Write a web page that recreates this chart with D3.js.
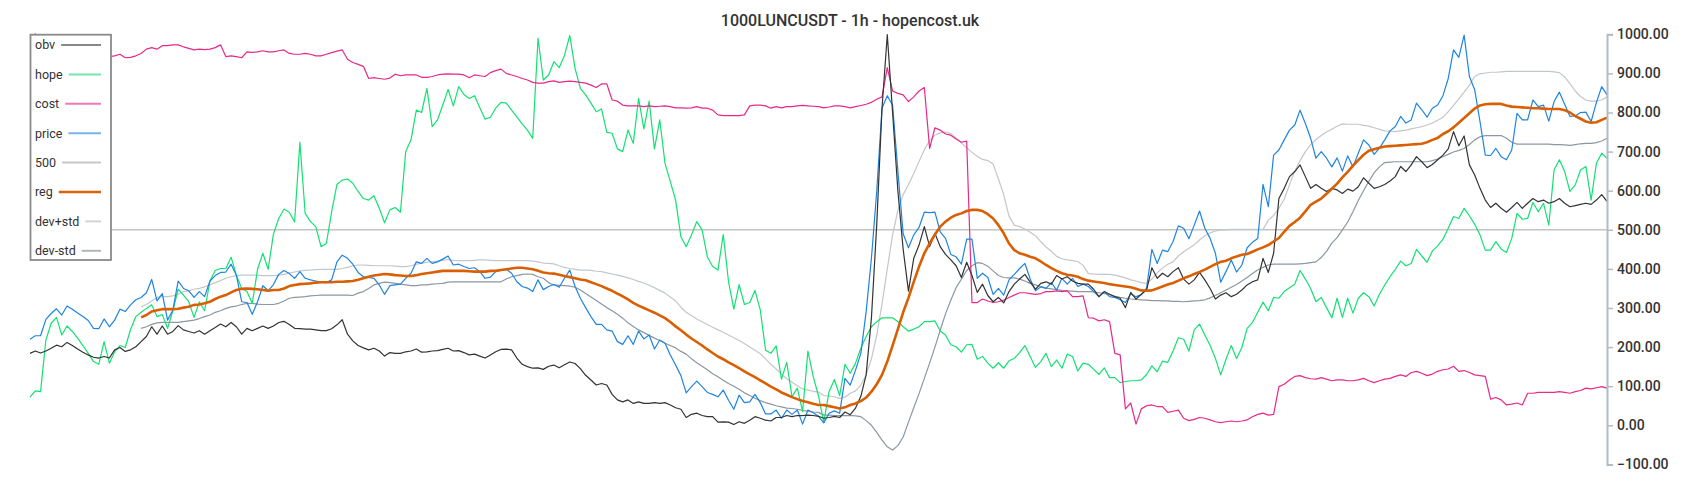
<!DOCTYPE html>
<html>
<head>
<meta charset="utf-8">
<script src="https://cdn.jsdelivr.net/npm/d3@7"></script>
<style>
  html, body { margin: 0; padding: 0; background: #fff; }
  svg { display: block; font-family: Roboto, "Noto Sans", sans-serif; }
</style>
</head>
<body>
<svg id="chart" width="1700" height="500"></svg>
<script>
// ---------------- data (hourly samples, index 0..298) ----------------
const title = "1000LUNCUSDT - 1h - hopencost.uk";
const seriesNames = ["obv", "hope", "cost", "price", "500", "reg", "dev+std", "dev-std"];
const yTicks = [-100, 0, 100, 200, 300, 400, 500, 600, 700, 800, 900, 1000];

const obv = [
184,190,185,190,197,205,201,212,204,195,
187,180,174,172,176,172,193,199,189,193,
201,214,227,252,233,254,233,240,255,244,
240,236,242,233,242,250,259,252,263,252,
233,248,242,248,254,248,254,263,266,258,
248,247,246,246,244,242,242,247,257,270,
233,216,204,198,193,197,190,177,186,184,
184,188,190,195,187,188,190,191,194,197,
190,191,186,180,182,177,172,180,188,194,
195,193,172,156,150,146,147,143,151,154,
147,155,162,158,145,128,116,103,107,103,
79,65,60,65,56,60,56,56,58,56,
58,52,45,41,20,28,31,25,22,22,
8,9,8,2,9,5,13,22,18,13,
11,20,20,25,22,25,25,26,25,23,
18,20,23,20,34,27,44,74,129,274,
512,811,999,800,600,450,343,427,461,508,
457,491,457,437,423,408,378,417,383,340,
361,332,316,327,313,342,361,374,386,366,
348,363,367,361,383,374,380,369,363,361,
361,348,329,342,335,329,325,301,340,323,
335,346,403,376,389,380,393,403,374,361,
372,391,372,350,323,333,339,329,335,346,
359,367,372,427,391,440,580,606,636,649,
666,636,606,616,606,598,606,602,593,604,
599,610,633,619,606,610,616,625,636,662,
649,666,687,674,659,667,679,691,707,751,
715,740,666,640,606,576,557,568,555,545,
557,570,555,568,580,572,576,568,572,580,
568,559,562,565,568,565,576,590,573];

const hope = [
72,88,86,218,261,276,231,254,240,223,
204,184,163,156,214,159,188,204,199,245,
278,289,299,308,278,283,248,293,348,333,
316,276,316,293,369,396,401,401,430,384,
350,342,312,399,440,399,489,529,553,545,
520,724,542,521,508,457,465,546,616,627,
630,619,598,580,576,587,555,518,551,557,
545,700,730,806,800,862,764,781,819,859,
817,866,846,836,843,812,783,788,811,826,
824,806,789,771,755,734,990,883,896,930,
915,946,997,913,862,845,824,802,809,749,
747,707,700,755,721,836,758,829,707,781,
670,623,576,482,457,487,521,500,431,406,
397,488,367,297,360,309,314,345,295,192,
184,203,118,161,73,95,35,190,125,75,
8,86,117,76,156,133,159,197,227,252,
265,275,275,275,265,252,241,246,252,265,
265,267,241,231,206,201,187,206,207,169,
176,159,146,160,146,165,171,186,204,176,
148,163,184,150,167,146,182,176,139,159,
156,143,130,147,122,122,109,112,114,114,
116,130,152,137,164,161,190,224,220,190,
244,259,231,204,171,129,169,204,171,199,
248,263,289,315,293,327,325,342,352,361,
396,374,350,316,327,301,275,325,276,325,
287,325,339,329,305,335,359,380,399,420,
408,414,450,433,417,446,459,476,504,534,
529,555,536,514,487,448,448,470,451,442,
478,542,527,529,570,546,568,512,653,679,
649,598,615,653,662,576,670,696,683];

const cost = [
990,1001,988,982,976,968,962,957,953,950,
948,946,945,944,943,943,945,949,940,941,
945,951,962,966,962,971,971,973,973,968,
964,960,962,961,962,966,973,943,945,943,
940,955,954,955,958,955,955,958,960,951,
949,949,951,949,945,945,949,953,957,960,
936,928,923,918,887,889,887,885,888,898,
894,896,896,896,890,890,892,896,898,899,
898,898,896,889,896,894,892,902,907,911,
900,896,892,887,883,877,875,875,879,881,
877,879,880,879,877,875,870,864,873,873,
832,829,819,817,817,817,815,817,815,816,
817,815,812,812,811,812,815,811,811,806,
794,792,792,792,792,794,817,819,819,817,
811,815,812,815,815,817,818,817,816,815,
812,814,817,817,815,812,815,818,821,826,
834,840,915,855,849,845,828,840,855,864,
708,761,755,745,742,732,724,727,314,314,
323,318,314,316,320,327,333,339,339,337,
335,337,342,342,344,342,344,329,329,331,
275,274,267,270,265,184,180,42,57,3,
42,50,52,48,48,33,36,39,18,12,
15,20,18,14,9,7,9,11,9,11,
14,22,28,31,26,28,99,105,116,125,
127,122,119,118,122,118,114,116,116,114,
114,116,120,114,109,114,118,120,125,129,
125,135,138,133,127,131,138,142,144,151,
138,140,135,129,127,125,67,71,65,52,
54,57,52,82,82,84,84,84,84,86,
84,82,86,89,95,93,96,99,95];

const price = [
220,229,229,271,286,298,282,305,297,287,
278,268,248,247,272,252,269,297,291,308,
321,327,339,373,318,337,269,295,369,350,
344,327,342,329,369,383,391,392,412,384,
316,314,284,316,357,344,360,386,396,388,
376,393,376,372,369,366,365,372,418,435,
427,412,391,380,378,376,359,335,357,359,
361,376,389,418,414,427,414,418,425,433,
410,412,406,401,403,393,376,379,393,397,
399,389,367,355,351,342,372,347,355,360,
353,376,397,355,325,301,278,258,258,244,
241,214,207,229,207,241,221,231,195,218,
210,180,154,127,83,99,113,99,84,79,
73,90,64,41,77,58,60,79,58,29,
29,39,18,39,28,39,3,39,32,23,
6,31,37,31,120,103,141,184,290,427,
598,811,843,819,650,490,454,487,506,545,
544,545,495,478,437,431,412,476,476,376,
389,378,335,350,333,372,386,401,414,374,
344,354,350,365,346,376,361,376,355,361,
355,342,329,342,329,327,321,314,336,329,
334,351,450,414,448,444,470,510,504,477,
512,548,504,478,440,366,393,423,392,410,
454,468,478,616,559,691,704,730,755,768,
806,772,734,683,700,683,661,684,650,689,
661,696,730,717,693,709,730,753,764,790,
773,781,824,807,788,811,819,843,887,960,
941,998,892,858,777,691,690,708,687,679,
704,798,781,781,832,815,819,778,828,852,
821,790,791,800,801,777,826,866,845];

const level500 = new Array(price.length).fill(500);

// regression and bands only exist from hour 21 onwards
const reg = new Array(21).fill(null).concat([
276,282,291,294,297,297,297,298,301,
303,308,309,312,316,323,329,333,340,346,
349,350,349,348,346,344,346,346,350,356,
359,361,362,363,365,366,366,366,367,367,
368,369,372,376,380,383,385,387,386,384,
383,382,382,384,387,389,391,393,395,395,
395,395,395,394,393,393,393,395,395,397,
399,401,403,403,401,399,395,391,389,388,
385,382,379,376,373,371,366,361,356,350,
344,337,330,322,313,306,300,294,288,281,
274,264,253,243,232,222,213,204,194,185,
176,169,161,154,146,138,130,123,115,107,
99,92,84,78,72,67,62,59,55,52,
52,49,46,43,46,52,56,62,71,86,
105,129,163,204,246,289,326,367,406,440,
465,488,508,521,531,538,542,548,551,551,
548,540,529,512,491,465,448,440,436,431,
427,419,410,402,395,389,385,383,380,374,
370,368,366,364,361,359,357,355,353,349,
345,344,345,350,355,360,364,370,376,381,
387,392,398,405,412,418,421,427,432,436,
438,444,450,455,461,470,479,495,510,520,
531,547,564,572,580,592,605,618,634,648,
664,678,692,702,706,710,713,714,715,716,
717,718,719,720,724,730,735,745,752,762,
774,786,798,810,818,821,822,822,822,818,
815,814,813,812,811,811,810,809,809,809,
806,800,791,784,777,774,775,781,787]);

const devPlus = new Array(21).fill(null).concat([
303,309,318,327,329,329,331,335,342,
344,348,350,354,359,365,370,376,380,383,
384,384,384,384,383,383,383,384,386,389,
392,395,396,397,398,399,399,399,399,401,
404,408,410,410,409,408,408,408,408,407,
406,406,408,412,414,417,418,420,422,424,
422,421,421,421,422,423,423,422,421,421,
421,421,421,421,421,420,418,415,414,413,
408,404,401,399,397,397,396,394,393,390,
387,384,381,377,373,368,364,358,352,345,
338,328,318,302,289,281,272,265,258,251,
244,238,231,224,217,209,200,192,183,170,
156,144,131,119,110,101,93,90,87,85,
76,75,73,69,72,82,88,103,128,170,
230,310,400,487,550,590,615,644,675,705,
728,742,748,750,746,735,722,710,698,688,
680,677,668,630,590,535,512,508,502,494,
485,470,456,445,432,426,423,421,419,409,
388,387,386,386,386,384,381,377,372,369,
365,363,374,390,402,412,418,433,444,453,
462,474,485,492,497,499,500,501,501,501,
501,501,501,501,524,537,555,578,615,650,
677,700,718,731,741,750,757,765,771,770,
770,770,767,765,761,757,753,752,751,753,
755,758,761,764,768,773,780,788,802,818,
835,852,870,892,899,901,903,903,904,905,
905,905,905,905,905,905,905,905,904,902,
891,874,855,841,832,829,829,832,840]);

const devMinus = new Array(21).fill(null).concat([
248,252,258,262,263,263,263,263,265,
267,269,273,278,282,289,293,299,303,305,
309,312,312,310,309,309,309,312,318,325,
327,328,329,331,332,333,333,333,333,333,
333,332,338,342,350,359,363,366,365,363,
361,359,357,357,359,359,361,362,363,366,
367,367,367,367,367,367,367,367,367,367,
374,380,383,386,387,386,380,376,365,359,
358,357,356,353,346,337,328,319,310,301,
293,284,274,262,253,244,237,230,223,217,
210,204,198,189,182,170,160,151,142,132,
124,115,107,100,92,83,76,69,63,58,
54,50,47,44,43,41,38,36,34,33,
26,26,25,25,25,25,24,22,12,0,
-18,-38,-55,-63,-52,-30,8,45,81,120,
159,200,243,285,320,352,374,396,408,416,
414,407,395,383,378,377,377,374,369,363,
359,355,351,349,347,345,344,343,342,342,
342,341,339,337,334,330,327,325,323,322,
321,320,319,319,318,318,317,317,316,317,
318,319,321,326,332,339,346,353,360,369,
378,388,397,404,410,412,412,412,412,412,
413,414,416,418,429,445,466,480,500,520,
546,575,600,624,646,661,672,673,674,674,
674,674,674,674,674,677,681,687,693,699,
703,708,718,730,738,741,741,741,741,734,
724,719,719,719,719,719,719,719,718,718,
717,716,718,720,721,721,723,727,734]);

// ---------------- chart ----------------
const W = 1700, H = 500;
const svg = d3.select("#chart");
svg.append("rect").attr("width", W).attr("height", H).attr("fill", "#fff");

const x = d3.scaleLinear().domain([0, price.length - 1]).range([30, 1607]);
const y = d3.scaleLinear().domain([-100, 1000]).range([464.4, 34.3]);

const series = [
  { name: "obv",     data: obv,       color: "#333333", width: 1.2, legendColor: "#888888" },
  { name: "hope",    data: hope,      color: "#14e073", width: 1.2, legendColor: "#74e8aa" },
  { name: "cost",    data: cost,      color: "#e7298a", width: 1.2, legendColor: "#f07ab8" },
  { name: "price",   data: price,     color: "#1e84e2", width: 1.2, legendColor: "#78b4ec" },
  { name: "500",     data: level500,  color: "#c4c4c4", width: 1.6, legendColor: "#c8c8c8" },
  { name: "reg",     data: reg,       color: "#d95f02", width: 2.6, legendColor: "#d96406" },
  { name: "dev+std", data: devPlus,   color: "#c2c7cc", width: 1.2, legendColor: "#d0d4d8" },
  { name: "dev-std", data: devMinus,  color: "#8c97a1", width: 1.2, legendColor: "#aeb6bd" }
];

const line = d3.line()
  .defined(d => d != null)
  .x((d, i) => x(i))
  .y(d => y(d));

const drawOrder = ["500", "dev+std", "dev-std", "hope", "cost", "price", "obv", "reg"];
const gLines = svg.append("g").attr("fill", "none").attr("stroke-linejoin", "round");
drawOrder.forEach(n => {
  const s = series.find(d => d.name === n);
  gLines.append("path")
    .datum(s.data)
    .attr("d", line)
    .attr("stroke", s.color)
    .attr("stroke-width", s.width);
});

// right axis
const axis = d3.axisRight(y)
  .tickValues(yTicks)
  .tickFormat(d3.format(".2f"))
  .tickSize(6)
  .tickPadding(4);
const gAxis = svg.append("g").attr("transform", "translate(1607,0)").call(axis);
gAxis.select(".domain").attr("stroke", "#b3bbc3").attr("stroke-width", 2);
gAxis.selectAll(".tick line").attr("stroke", "#b3bbc3").attr("stroke-width", 1.5);
gAxis.selectAll(".tick text")
  .attr("fill", "#333")
  .style("font-family", "Roboto, sans-serif")
  .style("font-size", "14px")
  .style("font-weight", "500");

// title
svg.append("text")
  .attr("x", W / 2)
  .attr("y", 26)
  .attr("text-anchor", "middle")
  .attr("fill", "#333")
  .style("font-family", "Roboto, sans-serif")
  .style("font-size", "16px")
  .style("font-weight", "500")
  .text(title);

// legend
const lg = svg.append("g");
lg.append("rect")
  .attr("x", 30.5).attr("y", 34.7)
  .attr("width", 80.5).attr("height", 225.3)
  .attr("fill", "#fff")
  .attr("stroke", "#8a8a8a")
  .attr("stroke-width", 1.8);
seriesNames.forEach((n, i) => {
  const s = series.find(d => d.name === n);
  const cy = 45 + i * 29.4;
  const t = lg.append("text")
    .attr("x", 35).attr("y", cy + 4.3)
    .attr("fill", "#333")
    .style("font-family", "Roboto, sans-serif")
    .style("font-size", "12.5px")
    .text(n);
  const tw = t.node().getComputedTextLength();
  lg.append("line")
    .attr("x1", 35 + tw + 6).attr("x2", 101)
    .attr("y1", cy).attr("y2", cy)
    .attr("stroke", s.legendColor)
    .attr("stroke-width", n === "reg" ? 2.5 : 2);
});
</script>
</body>
</html>
